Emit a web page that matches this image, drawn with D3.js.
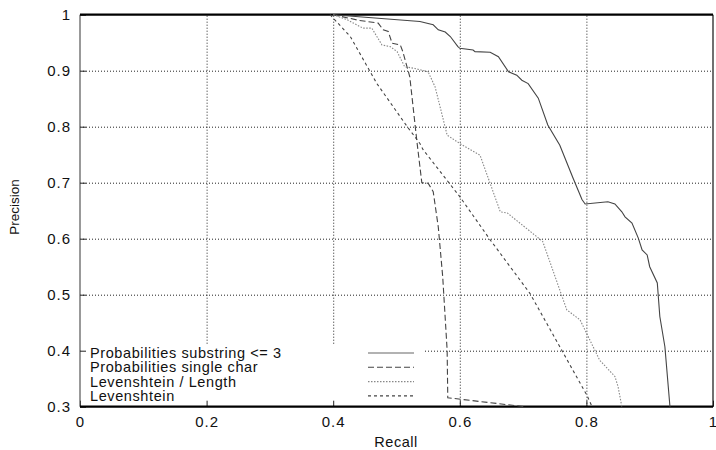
<!DOCTYPE html>
<html>
<head>
<style>
  body { margin: 0; background: #fff; }
  text { font-family: "Liberation Sans", Arial, sans-serif; fill: #111; }
</style>
</head>
<body>
<div id="chart"></div>
<script src="https://d3js.org/d3.v7.min.js"></script>
<script>

// tick labels
let xTicks = [0, 0.2, 0.4, 0.6, 0.8, 1];
let yTicks = [0.3, 0.4, 0.5, 0.6, 0.7, 0.8, 0.9, 1];

// series
let seriesNames = ["Probabilities substring <= 3", "Probabilities single char", "Levenshtein / Length", "Levenshtein"];

let substringRecall = [0.40, 0.537, 0.558, 0.566, 0.577, 0.585, 0.597, 0.600, 0.621, 0.624, 0.648, 0.661, 0.677, 0.690, 0.698, 0.708, 0.724, 0.739, 0.758, 0.779, 0.793, 0.798, 0.834, 0.845, 0.856, 0.861, 0.872, 0.882, 0.888, 0.896, 0.900, 0.912, 0.916, 0.924, 0.932];
let substringPrecision = [1.0, 0.988, 0.982, 0.973, 0.969, 0.961, 0.943, 0.940, 0.937, 0.934, 0.933, 0.925, 0.898, 0.892, 0.883, 0.877, 0.851, 0.803, 0.767, 0.708, 0.670, 0.662, 0.666, 0.662, 0.648, 0.639, 0.628, 0.601, 0.580, 0.571, 0.550, 0.521, 0.461, 0.407, 0.30];

let singleRecall = [0.40, 0.44, 0.471, 0.479, 0.487, 0.493, 0.506, 0.510, 0.521, 0.532, 0.540, 0.550, 0.558, 0.566, 0.573, 0.580, 0.581, 0.603, 0.703];
let singlePrecision = [1.0, 0.99, 0.985, 0.973, 0.970, 0.949, 0.946, 0.934, 0.889, 0.776, 0.700, 0.699, 0.684, 0.621, 0.532, 0.401, 0.316, 0.313, 0.30];

let lengthRecall = [0.40, 0.422, 0.447, 0.461, 0.477, 0.490, 0.501, 0.513, 0.529, 0.550, 0.561, 0.580, 0.600, 0.632, 0.664, 0.675, 0.731, 0.769, 0.790, 0.821, 0.845, 0.850, 0.856];
let lengthPrecision = [1.0, 0.991, 0.976, 0.976, 0.946, 0.943, 0.934, 0.907, 0.904, 0.898, 0.871, 0.785, 0.770, 0.749, 0.648, 0.646, 0.595, 0.473, 0.455, 0.383, 0.354, 0.336, 0.30];

let levRecall = [0.395, 0.427, 0.469, 0.517, 0.537, 0.542, 0.600, 0.648, 0.711, 0.758, 0.801, 0.809];
let levPrecision = [1.0, 0.961, 0.877, 0.800, 0.770, 0.759, 0.675, 0.598, 0.502, 0.407, 0.320, 0.30];

let width = 716, height = 450;
let plot = {left: 80, right: 713, top: 14.7, bottom: 406.7};

let xScale = d3.scaleLinear().domain([0, 1]).range([plot.left, plot.right]);
let yScale = d3.scaleLinear().domain([0.3, 1]).range([plot.bottom, plot.top]);

let svg = d3.select("#chart").append("svg")
  .attr("width", width)
  .attr("height", height);

// grid lines (dotted), inner ticks only
let gridX = svg.append("g")
  .attr("transform", "translate(0," + plot.bottom + ")")
  .call(d3.axisBottom(xScale).tickValues(xTicks.slice(1, -1))
    .tickSize(-(plot.bottom - plot.top)).tickFormat(""));
let gridY = svg.append("g")
  .attr("transform", "translate(" + plot.left + ",0)")
  .call(d3.axisLeft(yScale).tickValues(yTicks.slice(1, -1))
    .tickSize(-(plot.right - plot.left)).tickFormat(""));
[gridX, gridY].forEach(function(g) {
  g.select(".domain").remove();
  g.selectAll("line").attr("stroke", "#222").attr("stroke-dasharray", "1,2");
});

// legend area hides the grid
svg.append("rect")
  .attr("x", plot.left + 1).attr("y", 344)
  .attr("width", 343).attr("height", plot.bottom - 344 - 1)
  .attr("fill", "#fff");

// small inner ticks (visible only where grid is hidden)
let tickX = svg.append("g")
  .attr("transform", "translate(0," + plot.bottom + ")")
  .call(d3.axisBottom(xScale).tickValues(xTicks).tickSize(-6).tickFormat(""));
let tickY = svg.append("g")
  .attr("transform", "translate(" + plot.left + ",0)")
  .call(d3.axisLeft(yScale).tickValues(yTicks).tickSize(-6).tickFormat(""));
[tickX, tickY].forEach(function(g) {
  g.select(".domain").remove();
  g.selectAll("line").attr("stroke", "#222");
});

// tick labels
let xAxis = svg.append("g")
  .attr("transform", "translate(0," + plot.bottom + ")")
  .call(d3.axisBottom(xScale).tickValues(xTicks).tickSize(0).tickPadding(10)
    .tickFormat(function(d) { return d3.format("")(d); }));
let yAxis = svg.append("g")
  .attr("transform", "translate(" + plot.left + ",0)")
  .call(d3.axisLeft(yScale).tickValues(yTicks).tickSize(0).tickPadding(9)
    .tickFormat(function(d) { return d3.format("")(d); }));
[xAxis, yAxis].forEach(function(g) {
  g.select(".domain").remove();
  g.selectAll("text")
    .style("font-family", "'Liberation Sans', Arial, sans-serif")
    .style("font-size", "15px")
    .style("letter-spacing", "1px")
    .attr("fill", "#111");
});

// border
svg.append("line").attr("x1", plot.left).attr("x2", plot.left)
  .attr("y1", plot.top).attr("y2", plot.bottom)
  .attr("stroke", "#555").attr("stroke-width", 1.2);
svg.append("line").attr("x1", plot.right).attr("x2", plot.right)
  .attr("y1", plot.top).attr("y2", plot.bottom)
  .attr("stroke", "#111").attr("stroke-width", 1.2);
svg.append("line").attr("x1", plot.left).attr("x2", plot.right)
  .attr("y1", plot.top).attr("y2", plot.top)
  .attr("stroke", "#000").attr("stroke-width", 2.2);
svg.append("line").attr("x1", plot.left).attr("x2", plot.right)
  .attr("y1", plot.bottom).attr("y2", plot.bottom)
  .attr("stroke", "#000").attr("stroke-width", 2.2);

// curves
let series = [
  {name: seriesNames[0], r: substringRecall, p: substringPrecision, color: "#444", dash: null, w: 1.1},
  {name: seriesNames[1], r: singleRecall, p: singlePrecision, color: "#444", dash: "6,3", w: 1.1},
  {name: seriesNames[2], r: lengthRecall, p: lengthPrecision, color: "#888", dash: "1.5,1.5", w: 1.1},
  {name: seriesNames[3], r: levRecall, p: levPrecision, color: "#444", dash: "3,3", w: 1.1}
];

let line = d3.line()
  .x(function(d) { return xScale(d[0]); })
  .y(function(d) { return yScale(d[1]); });

series.forEach(function(s) {
  let pts = s.r.map(function(r, i) { return [r, s.p[i]]; });
  svg.append("path")
    .datum(pts)
    .attr("d", line)
    .attr("fill", "none")
    .attr("stroke", s.color)
    .attr("stroke-width", s.w)
    .attr("stroke-dasharray", s.dash);
});

// legend
let legendY = [353, 367.3, 381.6, 395.9];
series.forEach(function(s, i) {
  svg.append("text")
    .attr("x", 90).attr("y", legendY[i])
    .attr("dy", "0.35em")
    .style("font-size", "14.5px")
    .style("letter-spacing", "0.6px")
    .text(s.name);
  svg.append("line")
    .attr("x1", 368).attr("x2", 414)
    .attr("y1", legendY[i]).attr("y2", legendY[i])
    .attr("stroke", i === 0 ? "#999" : s.color)
    .attr("stroke-width", i === 0 ? 1.5 : s.w)
    .attr("stroke-dasharray", s.dash);
});

// axis titles
svg.append("text")
  .attr("x", 396).attr("y", 447)
  .attr("text-anchor", "middle")
  .style("font-size", "14.5px")
  .style("letter-spacing", "0.5px")
  .text("Recall");
svg.append("text")
  .attr("transform", "translate(19,207) rotate(-90)")
  .attr("text-anchor", "middle")
  .style("font-size", "13.5px")
  .text("Precision");

</script>
</body>
</html>
